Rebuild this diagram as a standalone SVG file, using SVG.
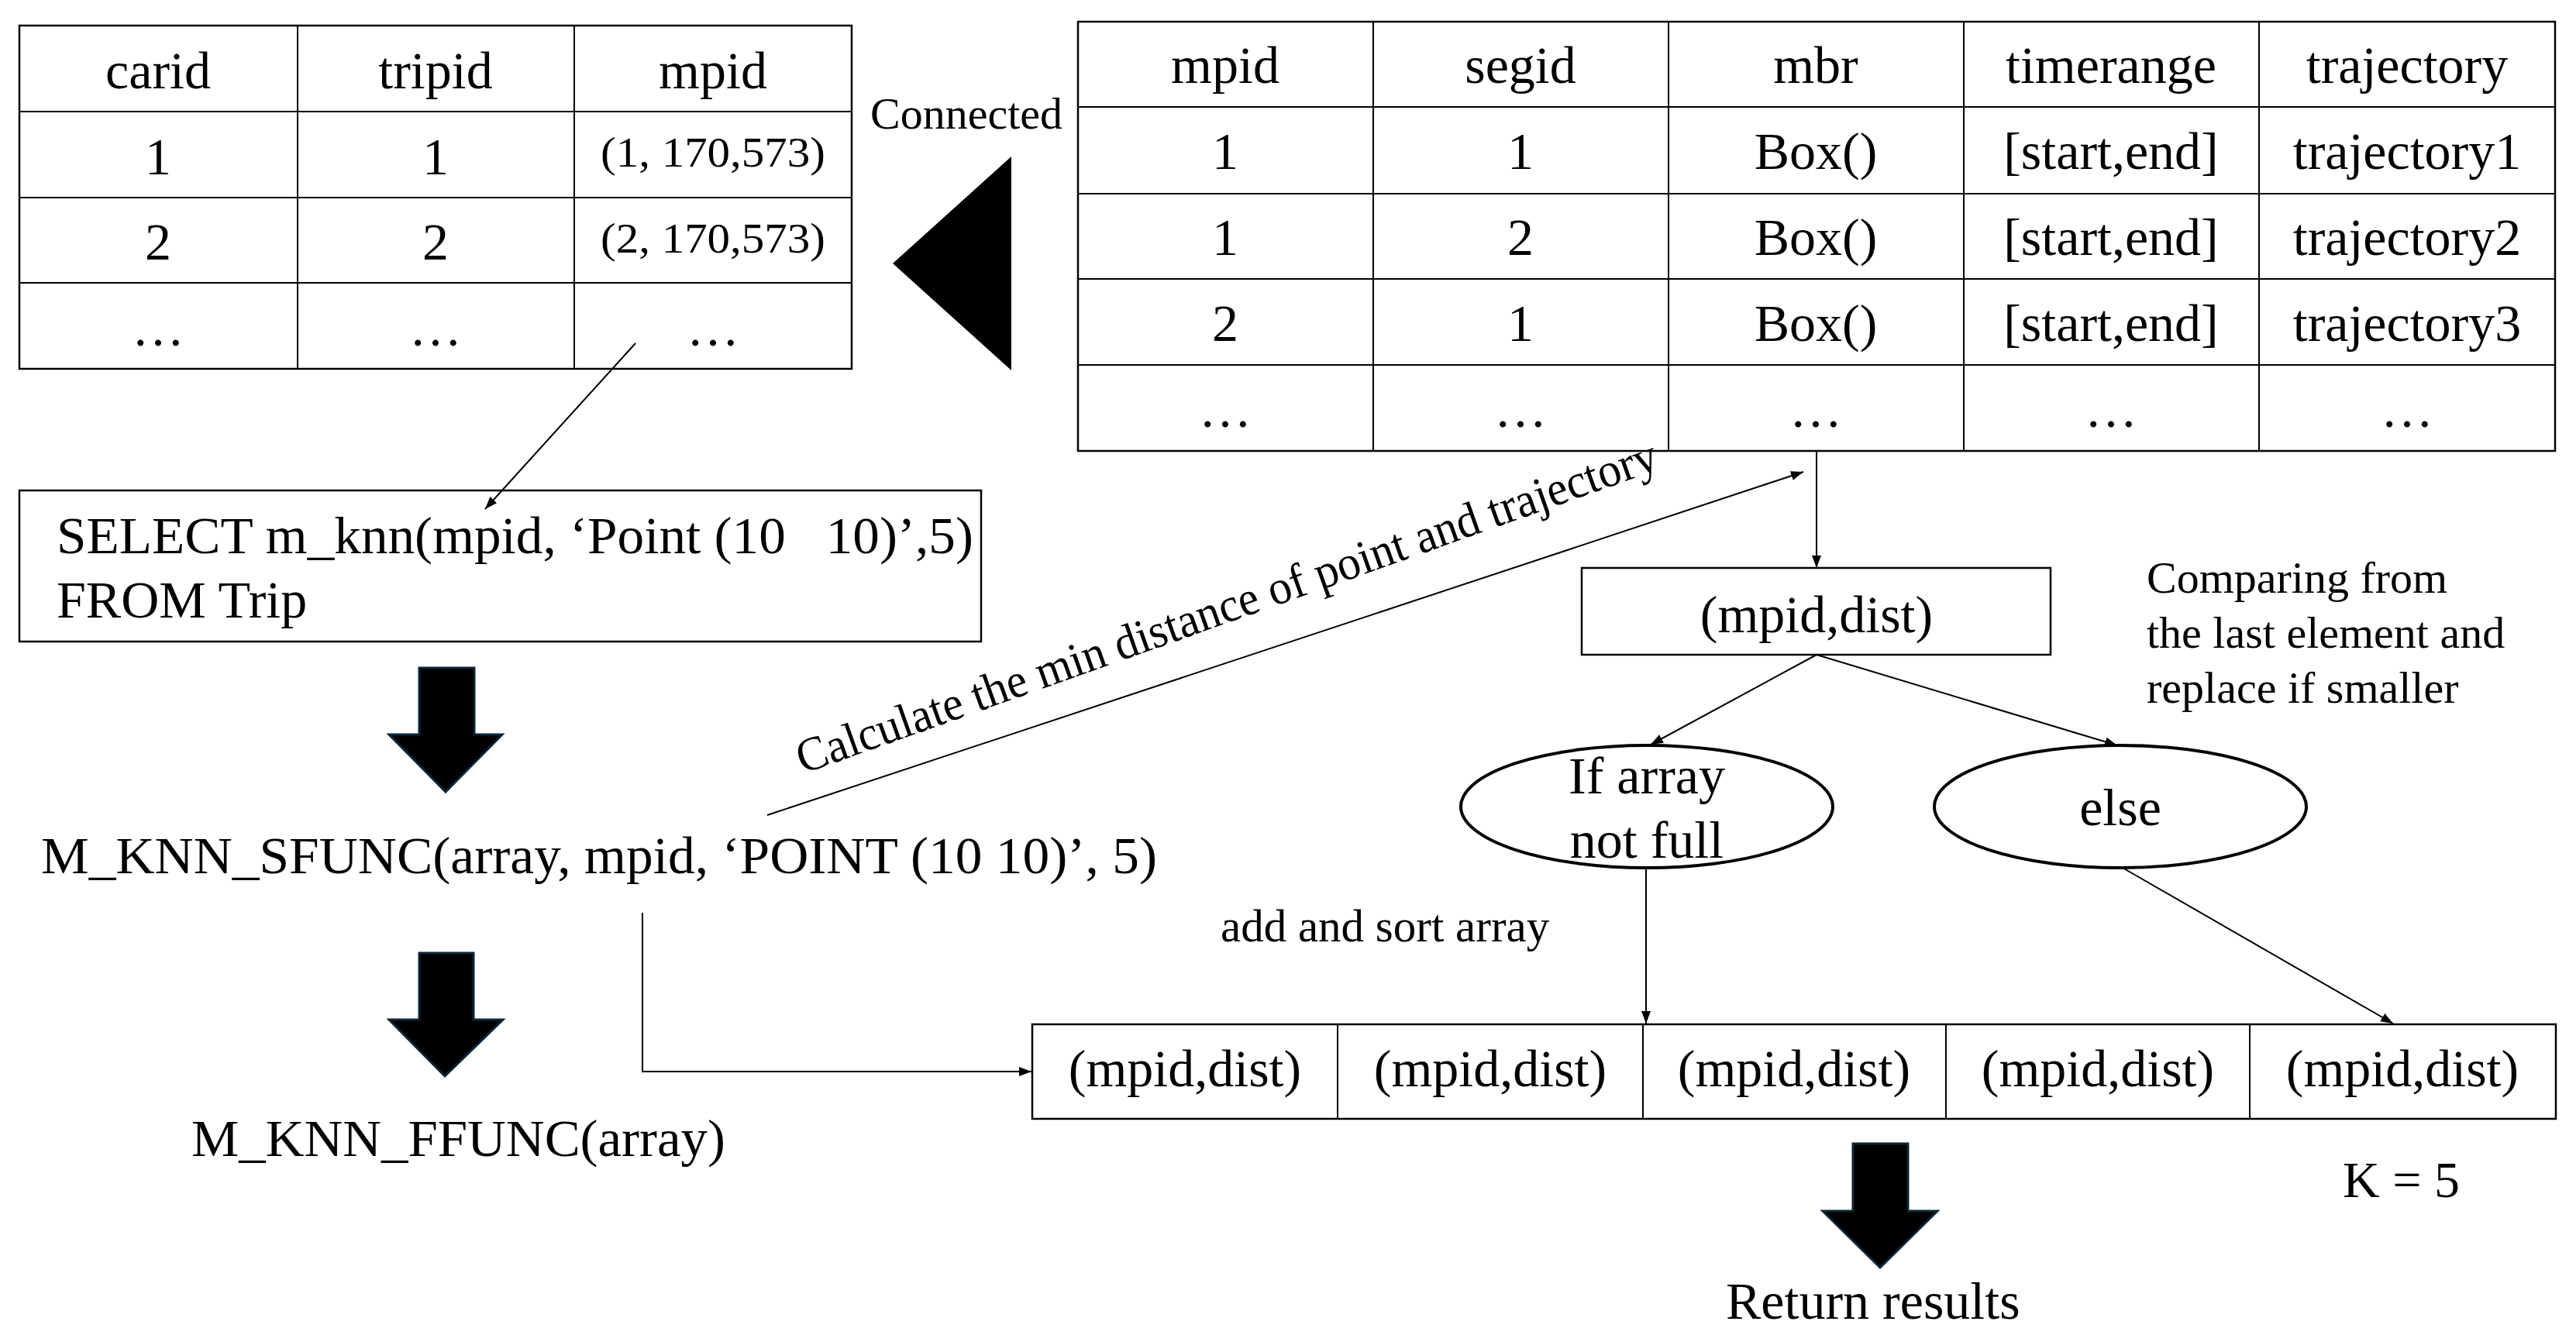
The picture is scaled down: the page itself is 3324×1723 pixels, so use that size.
<svg xmlns="http://www.w3.org/2000/svg" width="3324" height="1723" viewBox="0 0 3324 1723">
<style>
text{font-family:"Liberation Serif","Times New Roman",serif;fill:#000}
.t{font-size:68px}
.c{text-anchor:middle}
.s{font-size:58px}
.cell{fill:none;stroke:#000;stroke-width:2.5}
.grid{stroke:#000;stroke-width:2}
.ln{fill:none;stroke:#000;stroke-width:2}
.ell{fill:#fff;stroke:#000;stroke-width:4}
.blk{fill:#000;stroke:#0d2535;stroke-width:3}
</style>
<defs>
<marker id="ah" markerUnits="userSpaceOnUse" markerWidth="18" markerHeight="14" refX="16" refY="6" orient="auto">
<path d="M0,0 L16,6 L0,12 z" fill="#000"/>
</marker>
</defs>
<rect width="3324" height="1723" fill="#fff"/>

<g id="trip-table">
<rect class="cell" x="25" y="33" width="1074" height="443"/>
<path class="grid" d="M384,33V476M741,33V476M25,144H1099M25,255H1099M25,365H1099"/>
<g class="t c">
<text x="204" y="114">carid</text><text x="562" y="114">tripid</text><text x="920" y="114">mpid</text>
<text x="204" y="225">1</text><text x="562" y="225">1</text>
<text x="204" y="335">2</text><text x="562" y="335">2</text>
<text x="204" y="446">…</text><text x="562" y="446">…</text><text x="920" y="446">…</text>
</g>
<text x="775" y="215" font-size="54" textLength="290" lengthAdjust="spacingAndGlyphs">(1, 170,573)</text>
<text x="775" y="326" font-size="54" textLength="290" lengthAdjust="spacingAndGlyphs">(2, 170,573)</text>
</g>

<g id="connected">
<polygon points="1152,340 1305,202 1305,478" fill="#000"/>
<text class="s" x="1123" y="166">Connected</text>
</g>

<g id="segment-table">
<rect class="cell" x="1391" y="28" width="1906" height="554"/>
<path class="grid" d="M1772,28V582M2153,28V582M2534,28V582M2915,28V582M1391,138H3297M1391,250H3297M1391,360H3297M1391,471H3297"/>
<g class="t c">
<text x="1581" y="107">mpid</text><text x="1962" y="107">segid</text><text x="2343" y="107">mbr</text><text x="2724" y="107">timerange</text><text x="3106" y="107">trajectory</text>
<text x="1581" y="218">1</text><text x="1962" y="218">1</text><text x="2343" y="218">Box()</text><text x="2724" y="218">[start,end]</text><text x="3106" y="218">trajectory1</text>
<text x="1581" y="329">1</text><text x="1962" y="329">2</text><text x="2343" y="329">Box()</text><text x="2724" y="329">[start,end]</text><text x="3106" y="329">trajectory2</text>
<text x="1581" y="440">2</text><text x="1962" y="440">1</text><text x="2343" y="440">Box()</text><text x="2724" y="440">[start,end]</text><text x="3106" y="440">trajectory3</text>
<text x="1581" y="551">…</text><text x="1962" y="551">…</text><text x="2343" y="551">…</text><text x="2724" y="551">…</text><text x="3106" y="551">…</text>
</g>
</g>

<g id="select-query">
<rect class="cell" x="25" y="633" width="1241" height="195"/>
<text class="t" x="73" y="714" xml:space="preserve" textLength="1183" lengthAdjust="spacingAndGlyphs">SELECT m_knn(mpid, ‘Point (10   10)’,5)</text>
<text class="t" x="73" y="797">FROM Trip</text>
</g>

<g id="block-arrow-1"><polygon class="blk" points="541,862 612,862 612,948 648,948 575,1022 502,948 541,948"/></g>

<g id="sfunc"><text class="t" x="53" y="1127" textLength="1440" lengthAdjust="spacingAndGlyphs">M_KNN_SFUNC(array, mpid, ‘POINT (10 10)’, 5)</text></g>

<g id="block-arrow-2"><polygon class="blk" points="541,1230 611,1230 611,1316 649,1316 574,1389 502,1316 541,1316"/></g>

<g id="ffunc"><text class="t" x="247" y="1492" textLength="689" lengthAdjust="spacingAndGlyphs">M_KNN_FFUNC(array)</text></g>

<g id="calc-label"><text transform="translate(1036,999) rotate(-19.6)" x="0" y="0" font-size="62" textLength="1175" lengthAdjust="spacingAndGlyphs">Calculate the min distance of point and trajectory</text></g>

<g id="mpid-dist">
<rect class="cell" x="2041" y="733" width="605" height="112"/>
<text class="t c" x="2344" y="816">(mpid,dist)</text>
</g>

<g id="comparing-note">
<text class="s" x="2770" y="765">Comparing from</text>
<text class="s" x="2770" y="836">the last element and</text>
<text class="s" x="2770" y="907">replace if smaller</text>
</g>

<g id="if-not-full">
<ellipse class="ell" cx="2125" cy="1041" rx="240" ry="79"/>
<text class="t c" x="2125" y="1024">If array</text>
<text class="t c" x="2125" y="1107">not full</text>
</g>

<g id="else">
<ellipse class="ell" cx="2736" cy="1041" rx="240" ry="79"/>
<text class="t c" x="2736" y="1065">else</text>
</g>

<g id="add-sort-label"><text x="1575" y="1215" font-size="59">add and sort array</text></g>

<g id="result-array">
<rect class="cell" x="1332" y="1322" width="1966" height="122"/>
<path class="grid" d="M1726,1322V1444M2120,1322V1444M2511,1322V1444M2903,1322V1444"/>
<g class="t c">
<text x="1529" y="1402">(mpid,dist)</text><text x="1923" y="1402">(mpid,dist)</text><text x="2315" y="1402">(mpid,dist)</text><text x="2707" y="1402">(mpid,dist)</text><text x="3100" y="1402">(mpid,dist)</text>
</g>
</g>

<g id="k-label"><text x="3023" y="1545" font-size="66">K = 5</text></g>

<g id="block-arrow-3"><polygon class="blk" points="2391,1476 2462,1476 2462,1563 2500,1563 2426,1636 2352,1563 2391,1563"/></g>

<g id="return-results"><text class="t" x="2227" y="1702">Return results</text></g>

<g id="connectors">
<line class="ln" x1="820" y1="443" x2="626" y2="657" marker-end="url(#ah)"/>
<line class="ln" x1="990" y1="1052" x2="2327" y2="609" marker-end="url(#ah)"/>
<line class="ln" x1="2344" y1="582" x2="2344" y2="733" marker-end="url(#ah)"/>
<line class="ln" x1="2344" y1="845" x2="2130" y2="961" marker-end="url(#ah)"/>
<line class="ln" x1="2344" y1="845" x2="2732" y2="962" marker-end="url(#ah)"/>
<line class="ln" x1="2124" y1="1121" x2="2124" y2="1321" marker-end="url(#ah)"/>
<line class="ln" x1="2739" y1="1120" x2="3088" y2="1321" marker-end="url(#ah)"/>
<polyline class="ln" points="829,1178 829,1383 1331,1383" marker-end="url(#ah)"/>
</g>
</svg>
